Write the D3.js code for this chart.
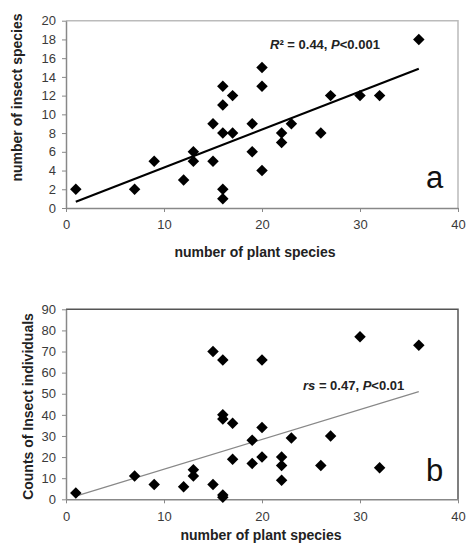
<!DOCTYPE html>
<html>
<head>
<meta charset="utf-8">
<script src="https://cdn.jsdelivr.net/npm/d3@7"></script>
<style>
  html, body { margin: 0; padding: 0; background: #fff; }
  svg { display: block; font-family: Arial, "Liberation Sans", sans-serif; }
</style>
</head>
<body>
<svg id="chart" width="466" height="543"></svg>
<script>
// ---- Data ----
const plantsA = [1, 7, 9, 12, 13, 13, 15, 15, 16, 16, 16, 16, 16, 17, 17, 19, 19, 20, 20, 20, 22, 22, 23, 26, 27, 30, 32, 36];
const insectSpecies = [2, 2, 5, 3, 6, 5, 9, 5, 13, 11, 8, 2, 1, 12, 8, 9, 6, 15, 13, 4, 8, 7, 9, 8, 12, 12, 12, 18];

const plantsB = [1, 7, 9, 12, 13, 13, 15, 15, 16, 16, 16, 16, 16, 17, 17, 19, 19, 20, 20, 20, 22, 22, 22, 23, 26, 27, 30, 32, 36];
const insectCounts = [3, 11, 7, 6, 14, 11, 70, 7, 66, 40, 38, 2, 1, 36, 19, 28, 17, 66, 34, 20, 20, 16, 9, 29, 16, 30, 77, 15, 73];

const trendAx = [1, 36];
const trendAy = [0.67, 14.86];
const trendBx = [1, 36];
const trendBy = [1.5, 51];

const xTicks = [0, 10, 20, 30, 40];
const yTicksA = [0, 2, 4, 6, 8, 10, 12, 14, 16, 18, 20];
const yTicksB = [0, 10, 20, 30, 40, 50, 60, 70, 80, 90];

const svg = d3.select("#chart");

const diamond = d3.symbol().type(d3.symbolSquare).size(66);

function panel(opts) {
  const x = d3.scaleLinear().domain([0, 40]).range([66, 458]);
  const y = d3.scaleLinear().domain(opts.yDomain).range([opts.bottom, opts.top]);
  const g = svg.append("g");

  // frame top & right
  g.append("path")
    .attr("d", `M${x(0)},${y(opts.yDomain[1])}H${x(40)}V${y(0)}`)
    .attr("fill", "none").attr("stroke", opts.frameColor).attr("stroke-width", 1.5);

  const yAxis = d3.axisLeft(y).tickValues(opts.yTicks).tickSize(4).tickPadding(6).tickSizeOuter(0);
  const xAxis = d3.axisBottom(x).tickValues(xTicks).tickSize(4).tickPadding(8).tickSizeOuter(0);

  const gy = g.append("g").attr("transform", `translate(${x(0)},0)`).call(yAxis);
  const gx = g.append("g").attr("transform", `translate(0,${y(0)})`).call(xAxis);
  [gx, gy].forEach(a => {
    a.select(".domain").attr("stroke", "#888").attr("stroke-width", 1.5);
    a.selectAll(".tick line").attr("stroke", "#888");
    a.selectAll(".tick text").attr("fill", "#3a3a3a").attr("font-size", 13)
      .attr("font-family", "Arial, 'Liberation Sans', sans-serif");
  });

  // trend line
  g.append("line")
    .attr("x1", x(opts.tx[0])).attr("y1", y(opts.ty[0]))
    .attr("x2", x(opts.tx[1])).attr("y2", y(opts.ty[1]))
    .attr("stroke", opts.lineColor).attr("stroke-width", opts.lineWidth);

  // points
  g.selectAll("path.pt").data(opts.xs.map((v, i) => [v, opts.ys[i]]))
    .enter().append("path").attr("class", "pt")
    .attr("d", diamond)
    .attr("transform", d => `translate(${x(d[0])},${y(d[1])}) rotate(45)`)
    .attr("fill", "#000");

  // x label
  g.append("text").attr("x", opts.xLabelX).attr("y", opts.xLabelY)
    .attr("text-anchor", "middle").attr("font-size", 14).attr("font-weight", "bold")
    .attr("fill", "#222").text("number of plant species");

  // y label
  g.append("text")
    .attr("transform", `translate(${opts.yLabelX},${opts.yLabelY}) rotate(-90)`)
    .attr("text-anchor", "middle").attr("dy", "0.35em")
    .attr("font-size", 14).attr("font-weight", "bold").attr("fill", "#222")
    .text(opts.yLabel);

  // panel letter
  g.append("text").attr("x", 426).attr("y", opts.letterY)
    .attr("font-size", 31).attr("fill", "#111").text(opts.letter);

  return { g, x, y };
}

const A = panel({
  yDomain: [0, 20], top: 20.7, bottom: 208, yTicks: yTicksA,
  frameColor: "#bbb", lineColor: "#000", lineWidth: 2.2,
  tx: trendAx, ty: trendAy, xs: plantsA, ys: insectSpecies,
  xLabelX: 255, xLabelY: 257, yLabelX: 17.5, yLabelY: 97.5,
  yLabel: "number of insect species", letter: "a", letterY: 188
});

const B = panel({
  yDomain: [0, 90], top: 309.3, bottom: 499.3, yTicks: yTicksB,
  frameColor: "#555", lineColor: "#888", lineWidth: 1.2,
  tx: trendBx, ty: trendBy, xs: plantsB, ys: insectCounts,
  xLabelX: 261, xLabelY: 540, yLabelX: 28, yLabelY: 406.5,
  yLabel: "Counts of Insect individuals", letter: "b", letterY: 480.5
});

// annotations
const tA = A.g.append("text").attr("x", 270).attr("y", 48.5)
  .attr("font-size", 13).attr("font-weight", "bold").attr("fill", "#222");
tA.append("tspan").attr("font-style", "italic").text("R");
tA.append("tspan").text("² = 0.44, ");
tA.append("tspan").attr("font-style", "italic").text("P");
tA.append("tspan").text("<0.001");

const tB = B.g.append("text").attr("x", 303).attr("y", 390)
  .attr("font-size", 13).attr("font-weight", "bold").attr("fill", "#222");
tB.append("tspan").attr("font-style", "italic").text("rs");
tB.append("tspan").text(" = 0.47, ");
tB.append("tspan").attr("font-style", "italic").text("P");
tB.append("tspan").text("<0.01");
</script>
</body>
</html>
